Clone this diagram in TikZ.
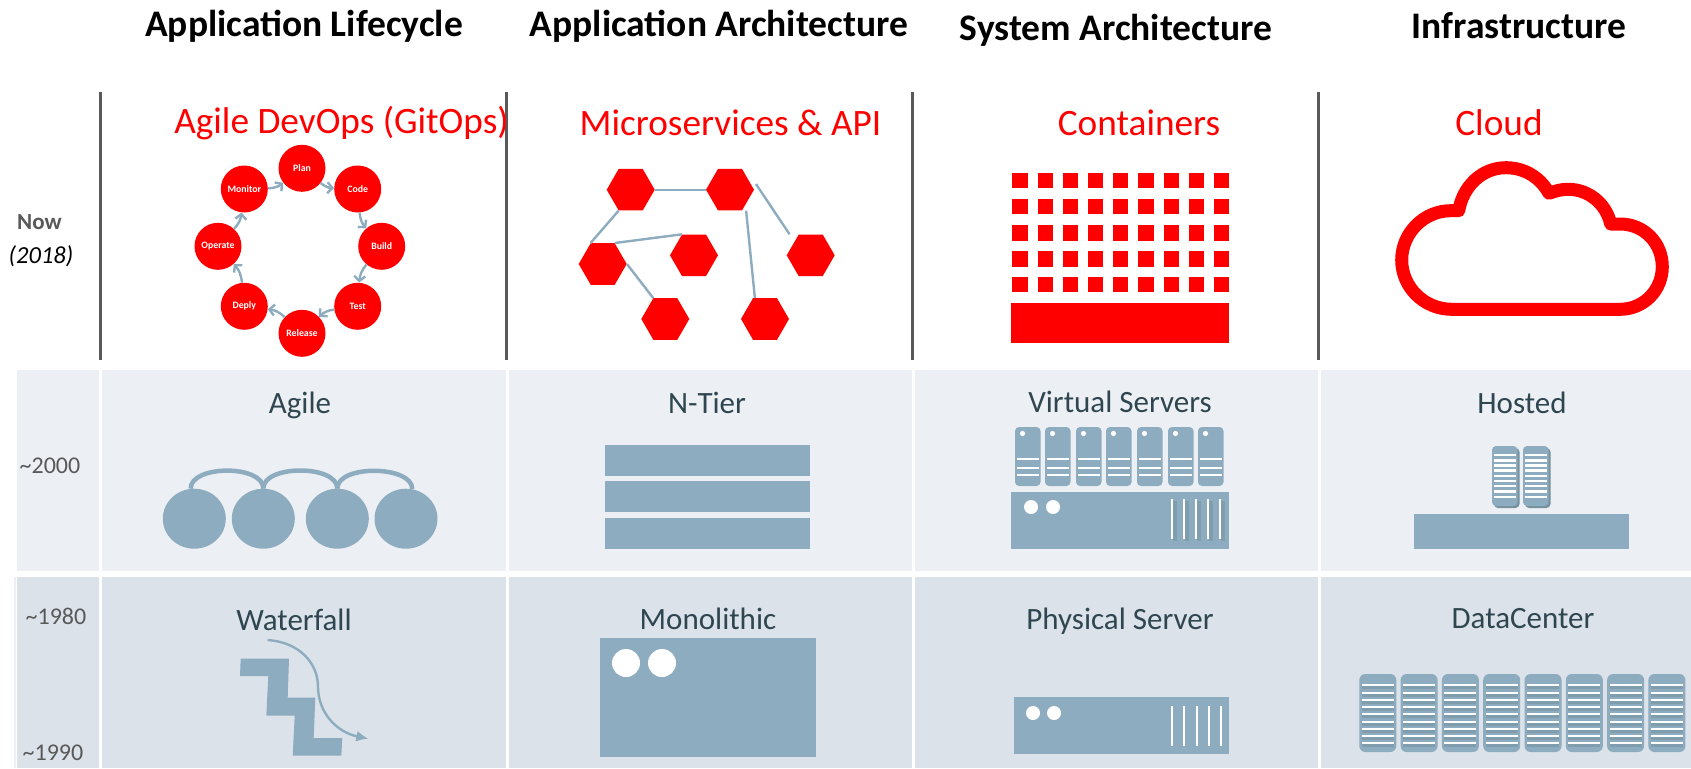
\documentclass[tikz,border=0pt]{standalone}
\usepackage{fontspec}
\setmainfont{Carlito}
\usetikzlibrary{positioning, calc, arrows.meta, shapes.geometric}
\definecolor{steelblue}{HTML}{8EACBF}
\definecolor{bandlight}{HTML}{ECF0F4}
\definecolor{banddark}{HTML}{DBE2E9}
\definecolor{inkslate}{HTML}{2F4650}
\definecolor{rackshade}{HTML}{76919F}
\definecolor{puregray}{HTML}{595959}
\tikzset{
  titlehead/.style={font=\fontsize{37.5}{42}\selectfont\bfseries, text=black, inner sep=0},
  redhead/.style={font=\fontsize{37.3}{42}\selectfont, text=red, inner sep=0},
  rowlabel/.style={font=\fontsize{31}{36}\selectfont, text=inkslate, inner sep=0},
  yearlabel/.style={font=\fontsize{24}{28}\selectfont, text=puregray, inner sep=0},
  stagenode/.style={circle, fill=red, text=white, minimum size=47, inner sep=0,
    font=\fontsize{9.8}{11}\selectfont\bfseries},
  cyclearrow/.style={draw=steelblue, line width=2.4, -{Straight Barb[length=5,width=11]}},
  hexnode/.style={regular polygon, regular polygon sides=6, fill=red, minimum size=48, inner sep=0},
  hexlink/.style={draw=steelblue, line width=2.4},
  bluebox/.style={fill=steelblue},
  rackbox/.style={fill=steelblue, rounded corners=4},
  whitebar/.style={draw=white, line width=2.6},
  shadebar/.style={draw=rackshade, line width=3.4, opacity=.55},
  loopnode/.style={ellipse, fill=steelblue, minimum width=63, minimum height=60, inner sep=0},
  looplink/.style={draw=steelblue, line width=4.5}
}
\begin{document}
\begin{tikzpicture}[x=1pt, y=-1pt]
  \useasboundingbox (0,0) rectangle (1691,768);

  % bands
  \fill[bandlight] (17,370) rectangle (1691,571);
  \fill[banddark] (17,577) rectangle (1691,768);
  \draw[bandlight, line width=1.5] (15,577) -- (15,768);
  \foreach \sepx in {100,507,913.5,1319} {
    \draw[white, line width=3] (\sepx,370) -- (\sepx,768);
  }
  \foreach \sepx in {100,506,912.5,1318} {
    \draw[puregray, line width=3] (\sepx,92) -- (\sepx,360);
  }

  % column titles
  \node[titlehead] (titlelife) at (304,26) {Application Lifecycle};
  \node[titlehead] (titleapp) at (719,26) {Application Architecture};
  \node[titlehead] (titlesys) at (1116,30) {System Architecture};
  \node[titlehead] (titleinfra) at (1519,26) {Infrastructure};

  % row years
  \node[yearlabel, font=\fontsize{23}{28}\selectfont\bfseries] (yearnow) at (39.5,222) {Now};
  \node[yearlabel, text=black, font=\fontsize{24.5}{28}\selectfont\itshape] (yearreal) at (41,256) {(2018)};
  \node[yearlabel] (yeara) at (50,466) {\textasciitilde 2000};
  \node[yearlabel] (yearb) at (56,616) {\textasciitilde 1980};
  \node[yearlabel] (yearc) at (53,753) {\textasciitilde 1990};

  % now row
  \node[redhead] (headlife) at (341.5,123) {Agile DevOps (GitOps)};
  \node[redhead] (headapp) at (730.5,123) {Microservices \& API};
  \node[redhead] (headsys) at (1139,123) {Containers};
  \node[redhead] (headinfra) at (1499,123) {Cloud};

  \node[stagenode] (plan) at (302,168.3) {Plan};
  \node[stagenode] (code) at (357.7,189) {Code};
  \node[stagenode] (build) at (381.7,246.3) {Build};
  \node[stagenode] (test) at (357.7,306.3) {Test};
  \node[stagenode] (release) at (302,333.3) {Release};
  \node[stagenode] (deply) at (244.3,306.3) {Deply};
  \node[stagenode] (operate) at (218,246.3) {Operate};
  \node[stagenode] (monitor) at (244.3,189) {Monitor};
  \foreach \from/\to in {plan/code, code/build, build/test, test/release,
      release/deply, deply/operate, operate/monitor, monitor/plan} {
    \draw[cyclearrow] (\from) to[bend right=18] (\to);
  }

  \node[hexnode] (hexa) at (630.7,189.7) {};
  \node[hexnode] (hexb) at (730,189.7) {};
  \node[hexnode] (hexc) at (602.7,264) {};
  \node[hexnode] (hexd) at (694,255.3) {};
  \node[hexnode] (hexe) at (810.7,255.3) {};
  \node[hexnode] (hexf) at (665.3,319) {};
  \node[hexnode] (hexg) at (765,319) {};
  \draw[hexlink] (hexa.east) -- (hexb.west);
  \draw[hexlink] (hexa.240) -- (hexc.120);
  \draw[hexlink] (hexc.60) -- (hexd.120);
  \draw[hexlink] (hexc.east) -- (hexf.120);
  \draw[hexlink] ([xshift=4]hexb.300) -- ([xshift=2]hexg.120);
  \draw[hexlink] ([xshift=5]hexb.15) -- ([xshift=-9]hexe.120);

  \foreach \cellx in {1012.3,1037.5,...,1215} {
    \foreach \celly in {172.7,198.7,225,251,276.7} {
      \fill[red] (\cellx,\celly) rectangle ++(15.3,15.5);
    }
  }
  \fill[red] (1011,303) rectangle (1229,343);

  \draw[red, line width=13, line join=round]
    (1451.7,309.3) -- (1620,309.3)
    .. controls (1644,309.3) and (1662.3,290) .. (1662.3,266.7)
    .. controls (1662.3,243) and (1644,224) .. (1620,224)
    -- (1610.7,224)
    .. controls (1606,203) and (1588,189.3) .. (1568.3,189.3)
    .. controls (1561,189.3) and (1555,191) .. (1549,193.3)
    .. controls (1540,177) and (1524,167.7) .. (1506,167.7)
    .. controls (1482,167.7) and (1463,186) .. (1458.7,210.7)
    -- (1450.7,210.7)
    .. controls (1424,210.7) and (1401.7,233) .. (1401.7,260)
    .. controls (1401.7,287) and (1424,309.3) .. (1451.7,309.3) -- cycle;

  % ~2000 row
  \node[rowlabel] (rowagile) at (300,405) {Agile};
  \node[rowlabel] (rowntier) at (707,403) {N-Tier};
  \node[rowlabel] (rowvirtual) at (1120,402) {Virtual Servers};
  \node[rowlabel] (rowhosted) at (1522,403) {Hosted};

  \node[loopnode] (loopa) at (194.3,518.7) {};
  \node[loopnode] (loopb) at (263.3,518.7) {};
  \node[loopnode] (loopc) at (337.3,518.7) {};
  \node[loopnode] (loopd) at (406,518.7) {};
  \draw[looplink] (loopa.97) .. controls +(0,-24) and +(0,-24) .. (loopb.north);
  \draw[looplink] (loopb.north) .. controls +(0,-24) and +(0,-24) .. (loopc.north);
  \draw[looplink] (loopc.north) .. controls +(0,-24) and +(0,-24) .. (loopd.78);

  \foreach \bary in {445,481,518} {
    \fill[steelblue] (605,\bary) rectangle ++(205,31);
  }

  \foreach \rackx in {1015,1045,1076,1106,1137,1168,1198} {
    \fill[rackbox] (\rackx,427) rectangle ++(25.5,59);
    \fill[white] (\rackx+7.5,433.5) circle (2.6);
    \foreach \liney in {459,468,475} {
      \draw[whitebar] (\rackx+1.5,\liney) -- ++(22,0);
    }
  }
  \fill[bluebox] (1011,492) rectangle (1229,549);
  \fill[white] (1031,507) circle (7);
  \fill[white] (1053,507) circle (7);
  \foreach \linex in {1172,1184,1196,1208,1220} {
    \draw[rackshade, line width=4, opacity=.55] (\linex+2.5,501) -- (\linex+2.5,541);
    \draw[whitebar] (\linex,499) -- (\linex,539);
  }

  \foreach \rackx in {1492,1523} {
    \fill[rackshade, rounded corners=4] (\rackx+2,448) rectangle ++(25.5,60);
    \fill[rackbox] (\rackx,446) rectangle ++(25.5,60);
    \foreach \liney in {455,460.5,465.5,470.5,476,481,486,491.5,497} {
      \draw[whitebar, line width=2.2] (\rackx+1.5,\liney) -- ++(22,0);
    }
  }
  \fill[bluebox] (1414,514) rectangle (1629,549);

  % ~1980 row
  \node[rowlabel] (rowfall) at (294,620) {Waterfall};
  \node[rowlabel] (rowmono) at (708,619) {Monolithic};
  \node[rowlabel] (rowphys) at (1120,621) {Physical Server};
  \node[rowlabel] (rowdata) at (1523,619) {DataCenter};

  \fill[steelblue] (240.7,658.7) -- (289,658.7) -- (287.7,697.7) -- (315.3,697.7)
    -- (313.7,738) -- (342.3,738) -- (341.3,755.7) -- (292.7,755.7)
    -- (294.7,715.7) -- (266.3,715.7) -- (268.3,676) -- (240,676) -- cycle;
  \coordinate (fallstart) at (267.7,640);
  \coordinate (fallend) at (368.3,738.7);
  \draw[steelblue, line width=2.4, -{Latex[length=12,width=11]}] (fallstart)
    .. controls (298,642) and (318,662) .. (318,686.7)
    .. controls (318,712) and (336,732) .. (fallend);

  \fill[bluebox] (600,638) rectangle (816,757);
  \fill[white] (626,663) circle (14);
  \fill[white] (662,663) circle (14);

  \fill[bluebox] (1014,697) rectangle (1229,754);
  \fill[white] (1033,713) circle (7);
  \fill[white] (1054,713) circle (7);
  \foreach \linex in {1172,1184,1197,1209,1221} {
    \draw[whitebar] (\linex,706) -- (\linex,746);
  }

  \foreach \rackx in {1359.3,1400.6,...,1650} {
    \fill[rackbox, rounded corners=6] (\rackx,674) rectangle ++(37,78);
    \foreach \liney in {685,693,700,707,714,722,729,736,743} {
      \draw[shadebar] (\rackx+2.5,\liney+2.5) -- ++(32,0);
      \draw[whitebar] (\rackx+2.5,\liney) -- ++(32,0);
    }
  }
\end{tikzpicture}
\end{document}
